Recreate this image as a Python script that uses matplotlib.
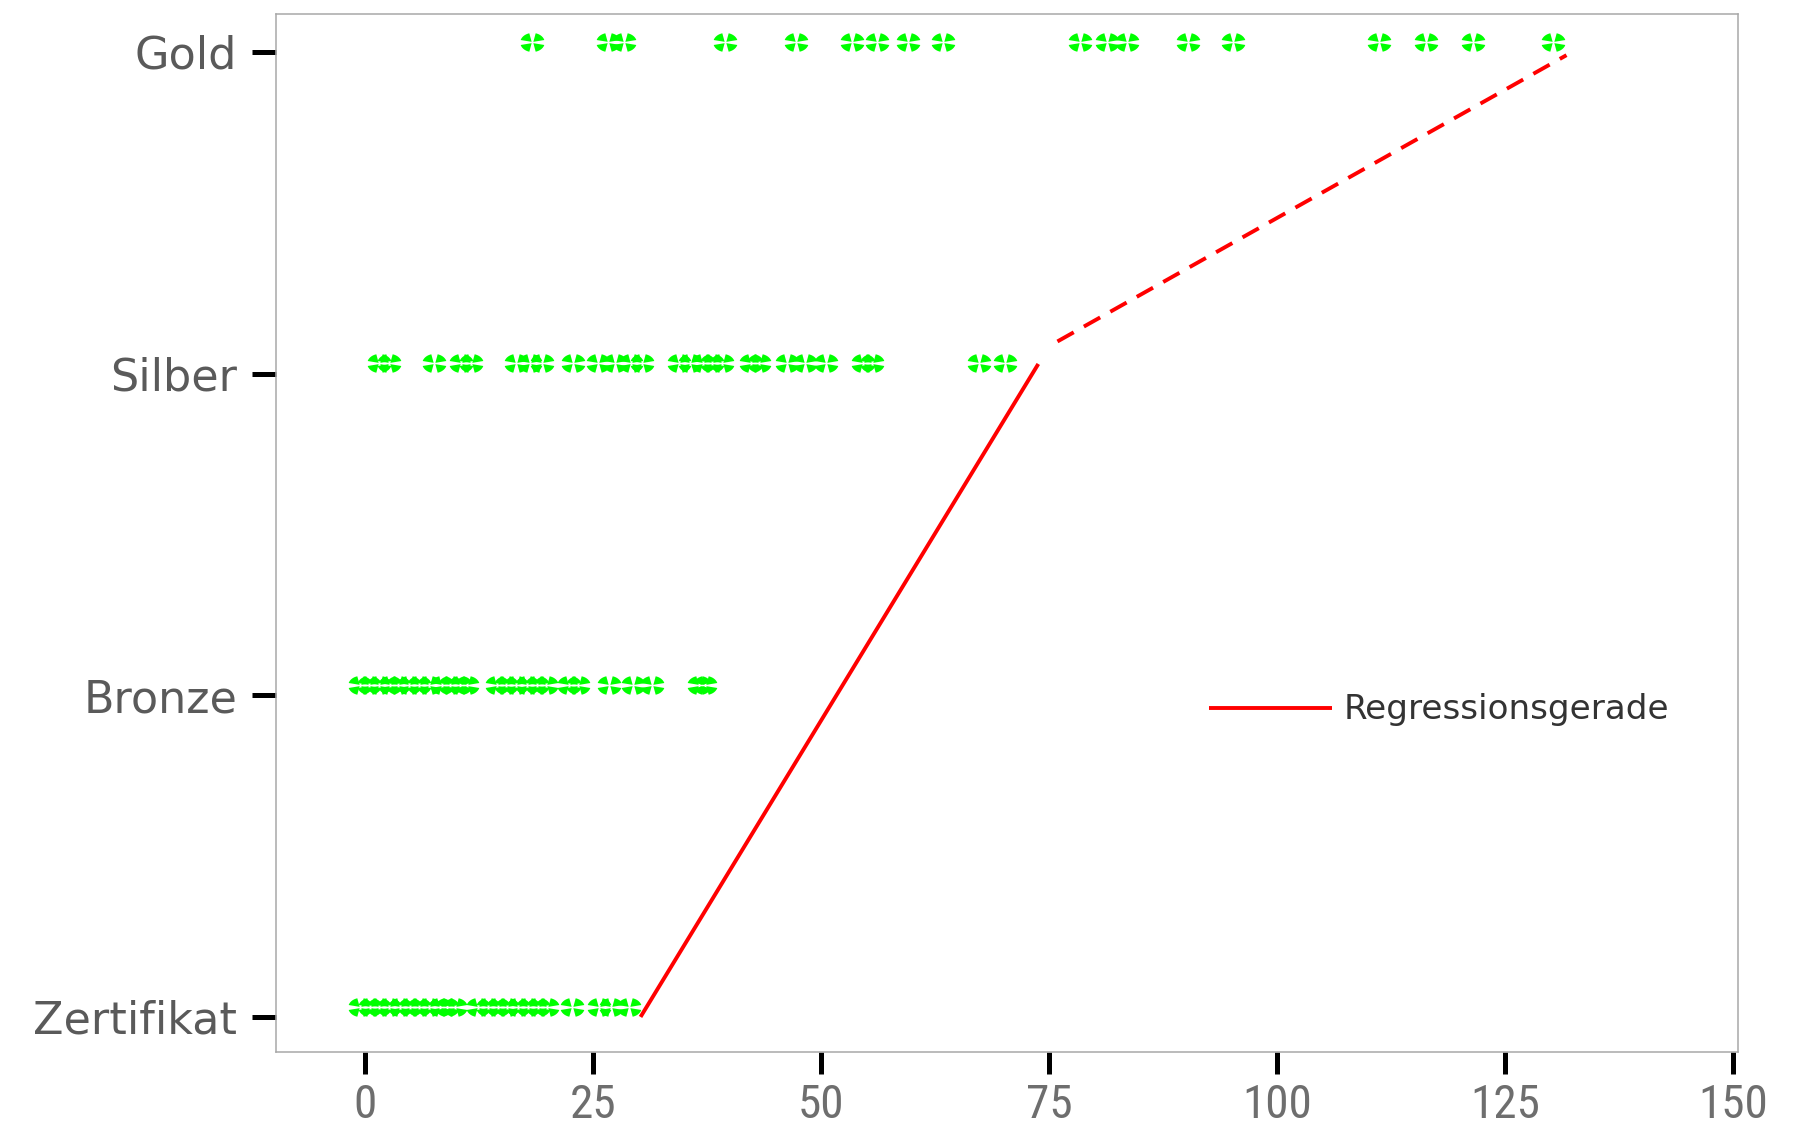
import numpy as np
import matplotlib
matplotlib.use("Agg")
import matplotlib.pyplot as plt
from matplotlib.path import Path
from matplotlib import font_manager as fm

# ---- data ----
categories = ["Zertifikat", "Bronze", "Silber", "Gold"]
x_ticks = [0, 25, 50, 75, 100, 125, 150]

zertifikat_x = [-0.6, 0.5, 1.5, 2.6, 3.8, 4.9, 5.9, 7.0, 8.2, 9.0, 9.9,
                12.4, 13.5, 14.6, 15.6, 16.8, 17.9, 19.0, 20.0,
                22.7, 25.7, 27.0, 28.9]
bronze_x = [-0.6, 0.4, 1.5, 2.7, 3.6, 4.8, 5.9, 7.0, 8.4, 9.3, 10.4, 11.2,
            14.5, 15.5, 16.6, 17.8, 18.8, 19.8,
            22.4, 23.3, 26.7, 29.4, 31.5, 36.6, 37.3]
silber_x = [1.5, 2.6, 7.6, 10.5, 11.6, 16.6, 18.1, 19.4, 22.8, 25.5, 27.4,
            29.1, 30.4, 34.4, 35.6, 37.0, 38.0, 39.1, 42.3, 43.2, 46.3, 48.2,
            50.5, 54.6, 55.6, 67.3, 70.1]
gold_x = [18.3, 26.6, 28.4, 39.5, 47.2, 53.4, 56.1, 59.5, 63.4, 78.4, 81.3,
          83.5, 90.2, 95.1, 111.2, 116.3, 121.4, 130.2]

reg_solid_x = [30.2, 73.8]
reg_solid_y = [0.0, 2.03]
reg_dash_x = [75.9, 131.7]
reg_dash_y = [2.10, 2.99]

marker_offset = 0.032

# ---- custom marker (cross with four quadrant wedges) ----
def cross_marker():
    verts, codes = [], []
    ry = 0.78
    g0 = 0.07   # gap at centre
    ge = 0.26   # gap at edge
    for sx in (1, -1):
        for sy in (1, -1):
            pts = [(g0, g0 * ry)]
            ang_start = np.arccos(ge)
            ang_end = np.arcsin(ge)
            angs = np.linspace(ang_start, ang_end, 14)
            for a in angs:
                pts.append((np.cos(a), ry * np.sin(a)))
            pts.append((g0, g0 * ry))
            pts = [(sx * px, sy * py) for px, py in pts]
            verts.extend(pts)
            codes.extend([Path.MOVETO] + [Path.LINETO] * (len(pts) - 2) + [Path.CLOSEPOLY])
    return Path(verts, codes)

mk = cross_marker()

# narrow font for x tick labels, if a condensed face exists
narrow_family = "DejaVu Sans"
names = {f.name for f in fm.fontManager.ttflist}
for cand in ["Liberation Sans Narrow", "DejaVu Sans Condensed", "Roboto Condensed",
             "Open Sans Condensed"]:
    if cand in names:
        narrow_family = cand
        break
narrow_stretch = "condensed"

fig = plt.figure(figsize=(18.02, 11.30), dpi=100)
ax = fig.add_axes([276 / 1802, 1 - 1052 / 1130, (1738 - 276) / 1802, (1052 - 14) / 1130])

green = "#00ff00"
rows = [zertifikat_x, bronze_x, silber_x, gold_x]
for i, xs in enumerate(rows):
    ax.plot(xs, [i + marker_offset] * len(xs), linestyle="none", marker=mk,
            markersize=17, markerfacecolor=green, markeredgewidth=0,
            zorder=2)

ax.plot(reg_solid_x, reg_solid_y, color="#ff0000", lw=2.8, zorder=3,
        label="Regressionsgerade", solid_capstyle="butt")
ax.plot(reg_dash_x, reg_dash_y, color="#ff0000", lw=2.8, zorder=3,
        linestyle=(0, (4.8, 3.0)))

ax.set_xlim(-9.76, 150.5)
ax.set_ylim(-0.109, 3.118)

ax.set_yticks(range(len(categories)))
ax.set_yticklabels(categories, fontsize=32, color="#5a5a5a", family="DejaVu Sans")
ax.set_xticks(x_ticks)
ax.set_xticklabels([str(v) for v in x_ticks], fontsize=34, color="#6e6e6e",
                   family=narrow_family, stretch=narrow_stretch)

ax.tick_params(axis="y", direction="out", length=17, width=3.6, color="black", pad=11)
ax.tick_params(axis="x", direction="out", length=16, width=3.6, color="black", pad=6)

for sp in ax.spines.values():
    sp.set_color("#a8a8a8")
    sp.set_linewidth(1.1)

leg = ax.legend(loc="center left", bbox_to_anchor=(1209 / 1802, 1 - 710 / 1130),
                bbox_transform=fig.transFigure, frameon=False, borderpad=0,
                borderaxespad=0, handlelength=3.6, handletextpad=0.35,
                prop={"family": "DejaVu Sans", "size": 24.6})
for t in leg.get_texts():
    t.set_color("#333333")

fig.savefig("out.png", dpi=100)
